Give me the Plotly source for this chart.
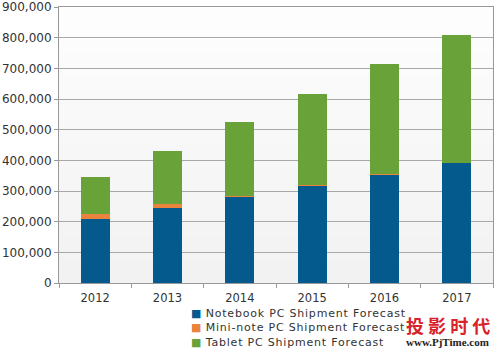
import plotly.graph_objects as go

years = ["2012", "2013", "2014", "2015", "2016", "2017"]
notebook = [208000, 246000, 281000, 318000, 355000, 392000]
mini_note = [18000, 11000, 4000, 2000, 1000, 500]
tablet = [120000, 174000, 240000, 297000, 359000, 415000]

y_ticks = [0, 100000, 200000, 300000, 400000, 500000, 600000, 700000, 800000, 900000]
y_labels = [f"{v:,}" for v in y_ticks]

series = [
    ("Notebook PC Shipment Forecast", notebook, "#045a8d"),
    ("Mini-note PC Shipment Forecast", mini_note, "#e8843c"),
    ("Tablet PC Shipment Forecast", tablet, "#6aa23a"),
]

# plot-area geometry in pixels
W, H = 500, 348
L, R, T, B = 59, 7, 7, 65
PW, PH = W - L - R, H - T - B


def px(x, y):
    """Convert page pixels to paper coordinates."""
    return (x - L) / PW, (H - B - y) / PH


fig = go.Figure()
for name, vals, color in series:
    fig.add_trace(go.Bar(
        x=years, y=vals, name=name,
        marker=dict(color=color, line=dict(width=0)),
        width=0.4, showlegend=False,
    ))

# soft vertical gradient behind the plotting area
steps = 12
for i in range(steps):
    shade = 253 - int(11 * i / (steps - 1))
    fig.add_shape(
        type="rect", xref="paper", yref="paper", layer="below",
        x0=0, x1=1, y0=1 - (i + 1) / steps, y1=1 - i / steps,
        fillcolor=f"rgb({shade},{shade},{shade})", line=dict(width=0),
    )

# compact legend below the axis
legend_lines = [
    f'<span style="color:{color}">■</span>'
    f'<span style="letter-spacing:0.8px"> {name}</span>'
    for name, _, color in series
]
lx, ly = px(189, 305)
fig.add_annotation(
    x=lx, y=ly, xref="paper", yref="paper", xanchor="left", yanchor="top",
    text="<br>".join(legend_lines), align="left", showarrow=False,
    font=dict(family="DejaVu Sans", size=11, color="#333333"),
)

fig.update_layout(
    barmode="stack",
    width=W, height=H,
    margin=dict(l=L, r=R, t=T, b=B, autoexpand=False),
    paper_bgcolor="white",
    plot_bgcolor="rgba(0,0,0,0)",
    font=dict(family="DejaVu Sans", size=11, color="#333333"),
    showlegend=False,
)
fig.update_xaxes(
    showgrid=False, showline=True, linecolor="#999999", linewidth=1,
    ticks="outside", ticklen=4, tickcolor="#999999",
    tickson="boundaries", mirror=True, ticklabelstandoff=4,
    tickfont=dict(size=11.5, color="#333333"),
)
fig.update_yaxes(
    range=[0, 900000], tickvals=y_ticks, ticktext=y_labels,
    showgrid=True, gridcolor="#a8a8a8", gridwidth=1,
    showline=True, linecolor="#999999", linewidth=1, mirror=True,
    ticks="outside", ticklen=4, tickcolor="#999999",
    tickfont=dict(size=12, color="#333333"), zeroline=False,
)

# site mark in the lower right corner
mx, my = px(404, 325)
fig.add_annotation(
    x=mx, y=my, xref="paper", yref="paper", xanchor="left", yanchor="middle",
    text="<b>投 影 时 代</b>", showarrow=False,
    font=dict(family="Noto Sans CJK SC", size=18, color="#d8232a"),
)
wx, wy = px(404, 342)
fig.add_annotation(
    x=wx, y=wy, xref="paper", yref="paper", xanchor="left", yanchor="middle",
    text="<b>www.PjTime.com</b>", showarrow=False,
    font=dict(family="Liberation Serif", size=11, color="#222222"),
)

fig.write_html("out.html")
